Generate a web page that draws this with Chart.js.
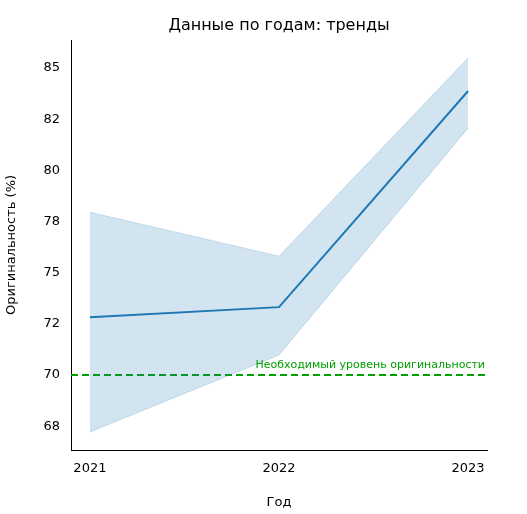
<!DOCTYPE html>
<html>
<head>
<meta charset="utf-8">
<script src="https://cdn.jsdelivr.net/npm/chart.js@4"></script>
<style>
  html, body { margin: 0; padding: 0; background: #fff; }
</style>
</head>
<body>
<canvas id="chart" width="527" height="514"></canvas>
<script>
// data
const years = [2021, 2022, 2023];
const meanValues = [72.83, 73.32, 83.88];
const upperValues = [77.96, 75.81, 85.49];
const lowerValues = [67.22, 70.98, 82.07];
const threshold = 70;
const yTickValues = [67.5, 70, 72.5, 75, 77.5, 80, 82.5, 85];
const yTickLabels = ["68", "70", "72", "75", "78", "80", "82", "85"];

const font = "DejaVu Sans";
const pts = arr => arr.map((v, i) => ({ x: years[i], y: v }));

// title + threshold label
const extras = {
  id: "extras",
  afterDraw(chart) {
    const ctx = chart.ctx;
    const area = chart.chartArea;
    ctx.save();
    ctx.fillStyle = "#000";
    ctx.font = "16px '" + font + "'";
    ctx.textAlign = "center";
    ctx.textBaseline = "alphabetic";
    ctx.fillText("Данные по годам: тренды", (area.left + area.right) / 2, 30);
    const y = chart.scales.y.getPixelForValue(threshold);
    ctx.fillStyle = "#00a000";
    ctx.font = "11px '" + font + "'";
    ctx.textAlign = "right";
    ctx.fillText("Необходимый уровень оригинальности", area.right - 2, y - 7);
    ctx.restore();
  }
};

new Chart(document.getElementById("chart"), {
  type: "line",
  data: {
    datasets: [
      {
        data: pts(upperValues),
        borderColor: "rgba(31,119,180,0.2)",
        borderWidth: 1,
        backgroundColor: "rgba(31,119,180,0.2)",
        pointRadius: 0,
        fill: "+1"
      },
      {
        data: pts(lowerValues),
        borderColor: "rgba(31,119,180,0.2)",
        borderWidth: 1,
        pointRadius: 0,
        fill: false
      },
      {
        data: pts(meanValues),
        borderColor: "#1f77b4",
        borderWidth: 2,
        pointRadius: 0,
        fill: false
      },
      {
        data: [{ x: 2020.9, y: threshold }, { x: 2023.1, y: threshold }],
        borderColor: "#00a000",
        borderWidth: 2,
        borderDash: [7, 4],
        pointRadius: 0,
        fill: false
      }
    ]
  },
  options: {
    responsive: false,
    animation: false,
    layout: { padding: { top: 40, right: 40, left: 0, bottom: 0 } },
    plugins: { legend: { display: false }, tooltip: { enabled: false }, title: { display: false } },
    scales: {
      x: {
        type: "linear",
        min: 2020.9,
        max: 2023.1,
        afterBuildTicks: s => { s.ticks = years.map(v => ({ value: v })); },
        afterFit: s => { s.height = 64; },
        grid: { display: false, drawTicks: true },
        border: { color: "#000", width: 1 },
        ticks: {
          color: "#000",
          font: { family: font, size: 13 },
          callback: v => String(v)
        },
        title: { display: true, text: "Год", color: "#000", font: { family: font, size: 13 } }
      },
      y: {
        min: 66.34,
        max: 86.37,
        afterBuildTicks: s => { s.ticks = yTickValues.map(v => ({ value: v })); },
        afterFit: s => { s.width = 71; },
        grid: { display: false },
        border: { color: "#000", width: 1 },
        ticks: {
          color: "#000",
          font: { family: font, size: 13 },
          callback: v => yTickLabels[yTickValues.indexOf(v)]
        },
        title: { display: true, text: "Оригинальность (%)", color: "#000", font: { family: font, size: 13 } }
      }
    }
  },
  plugins: [extras]
});
</script>
</body>
</html>
